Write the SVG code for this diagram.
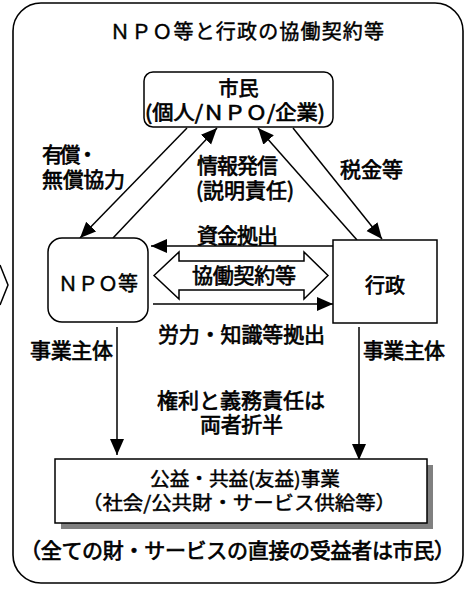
<svg xmlns="http://www.w3.org/2000/svg" width="469" height="590" viewBox="0 0 469 590">
<style>
.cjk{font-family:"Noto Sans CJK JP",sans-serif;font-weight:normal;fill:#000;stroke:#000;stroke-width:0.7;paint-order:stroke}
.reg{stroke-width:0.45}
.box{fill:#fff;stroke:#000;stroke-width:1.5}
.ln{stroke:#000;stroke-width:1.5;fill:none}
</style>
<defs>
<marker id="ah" markerUnits="userSpaceOnUse" markerWidth="17" markerHeight="15" refX="16" refY="7" orient="auto">
<path d="M0,0 L16,7 L0,14 z" fill="#000"/>
</marker>
</defs>
<rect x="0" y="0" width="469" height="590" fill="#fff"/>
<polyline class="ln" points="0,265 8,285 0,305"/>
<g id="frame">
<rect x="13" y="3" width="450" height="580" rx="28" ry="28" fill="#fff" stroke="#000" stroke-width="1.6"/>
<text class="cjk reg" x="110" y="39" font-size="20" textLength="274" lengthAdjust="spacing">ＮＰＯ等と行政の協働契約等</text>
<text class="cjk" x="20" y="558" font-size="21" textLength="435" lengthAdjust="spacing">（全ての財・サービスの直接の受益者は市民）</text>
</g>
<g id="connectors">
<line class="ln" x1="187" y1="128" x2="80" y2="238" marker-end="url(#ah)"/>
<line class="ln" x1="113" y1="238" x2="217" y2="128" marker-end="url(#ah)"/>
<line class="ln" x1="357" y1="240" x2="258" y2="128" marker-end="url(#ah)"/>
<line class="ln" x1="293" y1="128" x2="382" y2="239" marker-end="url(#ah)"/>
<line class="ln" x1="333" y1="246" x2="151" y2="246" marker-end="url(#ah)"/>
<line class="ln" x1="153" y1="304" x2="333" y2="304" marker-end="url(#ah)"/>
<line class="ln" x1="117" y1="327" x2="117" y2="455" marker-end="url(#ah)"/>
<line class="ln" x1="359" y1="327" x2="359" y2="460" marker-end="url(#ah)"/>
<g id="cooperation">
<polygon points="154,275.5 179,252 179,261 304,261 304,252 328,275.5 304,299 304,290 179,290 179,299" fill="#fff" stroke="#000" stroke-width="1.5"/>
<text class="cjk" x="192" y="283" font-size="21" textLength="104" lengthAdjust="spacing">協働契約等</text>
</g>
<text class="cjk" x="42" y="162" font-size="21" textLength="56" lengthAdjust="spacing">有償・</text>
<text class="cjk" x="42" y="187" font-size="21" textLength="83" lengthAdjust="spacing">無償協力</text>
<text class="cjk" x="197" y="173" font-size="21" textLength="81" lengthAdjust="spacing">情報発信</text>
<text class="cjk" x="196" y="198" font-size="21" textLength="98" lengthAdjust="spacingAndGlyphs">(説明責任)</text>
<text class="cjk" x="340" y="177" font-size="21" textLength="63" lengthAdjust="spacing">税金等</text>
<text class="cjk" x="197" y="243" font-size="21" textLength="81" lengthAdjust="spacing">資金拠出</text>
<text class="cjk" x="158" y="342" font-size="21" textLength="167" lengthAdjust="spacing">労力・知識等拠出</text>
<text class="cjk" x="30" y="358" font-size="21" textLength="83" lengthAdjust="spacing">事業主体</text>
<text class="cjk" x="363" y="358" font-size="21" textLength="82" lengthAdjust="spacing">事業主体</text>
<text class="cjk" x="157" y="408" font-size="21" textLength="168" lengthAdjust="spacing">権利と義務責任は</text>
<text class="cjk" x="200" y="432" font-size="21" textLength="83" lengthAdjust="spacing">両者折半</text>
</g>
<g id="citizen">
<rect class="box" x="144" y="72" width="189" height="55" rx="9" ry="9"/>
<text class="cjk" x="238.5" y="96" font-size="20" text-anchor="middle">市民</text>
<text class="cjk" x="145" y="120" font-size="20" textLength="180" lengthAdjust="spacingAndGlyphs">(個人/ＮＰＯ/企業)</text>
</g>
<g id="npo">
<rect class="box" x="48" y="238" width="100" height="84" rx="14" ry="14"/>
<text class="cjk reg" x="58" y="291" font-size="20" textLength="80" lengthAdjust="spacing">ＮＰＯ等</text>
</g>
<g id="gov">
<rect class="box" x="333" y="240" width="104" height="83"/>
<text class="cjk" x="385" y="293" font-size="20" text-anchor="middle">行政</text>
</g>
<g id="project">
<rect x="61" y="465" width="372" height="64" fill="#808080"/>
<rect class="box" x="55" y="459" width="372" height="64"/>
<text class="cjk reg" x="150" y="486" font-size="19" textLength="190" lengthAdjust="spacingAndGlyphs">公益・共益(友益)事業</text>
<text class="cjk reg" x="82" y="510" font-size="19" textLength="314" lengthAdjust="spacingAndGlyphs">（社会/公共財・サービス供給等）</text>
</g>
</svg>
